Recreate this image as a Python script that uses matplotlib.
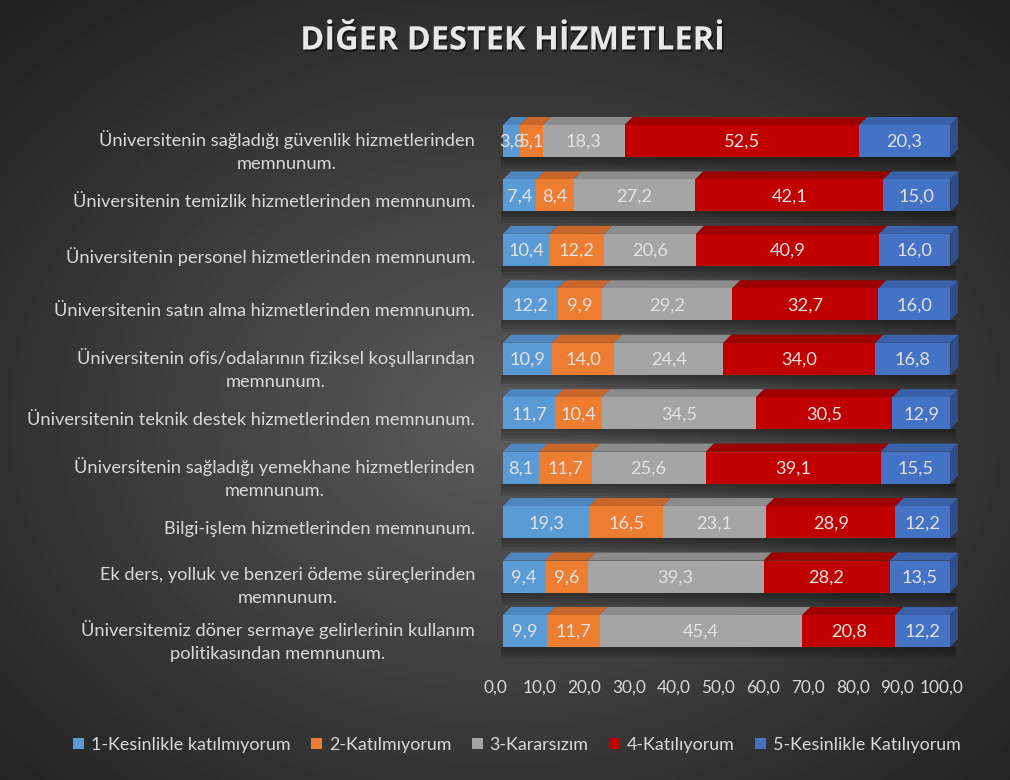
import numpy as np
import matplotlib
matplotlib.use("Agg")
import matplotlib.pyplot as plt
from matplotlib.patches import Polygon, Patch, Rectangle
from matplotlib.transforms import ScaledTranslation
import matplotlib.patheffects as pe

# ---------------- data ----------------
title = "DİĞER DESTEK HİZMETLERİ"
categories = [
    "Üniversitenin sağladığı güvenlik hizmetlerinden\nmemnunum.",
    "Üniversitenin temizlik hizmetlerinden memnunum.",
    "Üniversitenin personel hizmetlerinden memnunum.",
    "Üniversitenin satın alma hizmetlerinden memnunum.",
    "Üniversitenin ofis/odalarının fiziksel koşullarından\nmemnunum.",
    "Üniversitenin teknik destek hizmetlerinden memnunum.",
    "Üniversitenin sağladığı yemekhane hizmetlerinden\nmemnunum.",
    "Bilgi-işlem hizmetlerinden memnunum.",
    "Ek ders, yolluk ve benzeri ödeme süreçlerinden\nmemnunum.",
    "Üniversitemiz döner sermaye gelirlerinin kullanım\npolitikasından memnunum.",
]
series_names = ["1-Kesinlikle katılmıyorum", "2-Katılmıyorum", "3-Kararsızım",
                "4-Katılıyorum", "5-Kesinlikle Katılıyorum"]
s1 = [3.8, 7.4, 10.4, 12.2, 10.9, 11.7, 8.1, 19.3, 9.4, 9.9]
s2 = [5.1, 8.4, 12.2, 9.9, 14.0, 10.4, 11.7, 16.5, 9.6, 11.7]
s3 = [18.3, 27.2, 20.6, 29.2, 24.4, 34.5, 25.6, 23.1, 39.3, 45.4]
s4 = [52.5, 42.1, 40.9, 32.7, 34.0, 30.5, 39.1, 28.9, 28.2, 20.8]
s5 = [20.3, 15.0, 16.0, 16.0, 16.8, 12.9, 15.5, 12.2, 13.5, 12.2]
tick_values = [0, 10, 20, 30, 40, 50, 60, 70, 80, 90, 100]
tick_labels = ["0,0", "10,0", "20,0", "30,0", "40,0", "50,0", "60,0",
               "70,0", "80,0", "90,0", "100,0"]

series = [s1, s2, s3, s4, s5]
front_colors = ["#5B9BD5", "#ED7D31", "#A5A5A5", "#C00000", "#4472C4"]
top_colors = ["#4E87BF", "#C9672A", "#8C8C8C", "#9E0000", "#3A62AA"]
side_colors = ["#3F6E9C", "#A55423", "#727272", "#800000", "#2E4F8C"]
text_color = "#D9D9D9"
FONT = ["Lato", "DejaVu Sans"]

# ---------------- figure ----------------
W, H = 1010, 780
fig = plt.figure(figsize=(W / 100, H / 100), dpi=100)
renderer = fig.canvas.get_renderer()


def fit(text, target_px, family=FONT, weight="normal"):
    t = fig.text(0, 0, text, fontsize=20, family=family, weight=weight)
    w = t.get_window_extent(renderer).width
    t.remove()
    return 20 * target_px / w


# background radial gradient
bg = fig.add_axes([0, 0, 1, 1], zorder=-10)
yy, xx = np.mgrid[0:H, 0:W]
r = np.sqrt(((xx - 505) / (W / 2)) ** 2 + ((yy - 420) / (H / 2)) ** 2) / np.sqrt(2)
r = np.clip(r, 0, 1)
c_center, c_edge = 0x5C / 255, 0x22 / 255
v = c_edge + (c_center - c_edge) * (1 - r) ** 1.1
bg.imshow(v, cmap="gray", vmin=0, vmax=1, aspect="auto", interpolation="bilinear")
bg.axis("off")

# main axes (front face 0..100 -> px 503..950)
row0, step = 141.0, 54.44
ax_top, ax_bot = 100, 665
ax = fig.add_axes([503 / W, 1 - ax_bot / H, 447 / W, (ax_bot - ax_top) / H])
ax.set_xlim(0, 100)
ax.set_ylim((ax_bot - row0) / step, (ax_top - row0) / step)
ax.patch.set_alpha(0)
for sp in ax.spines.values():
    sp.set_visible(False)

n = len(categories)
y = np.arange(n)
h = 32 / step
dx = 8 / 4.47
dy = 8 / step

fs_data = fit("52,5", 36)

# soft shadow under each bar
for i in range(n):
    for k, ext in enumerate([3, 6, 9, 12]):
        ax.add_patch(Rectangle((-0.5, y[i] + h / 2), 100 + dx, ext / step,
                               facecolor="black", alpha=0.09, edgecolor="none",
                               zorder=1, clip_on=False))

left = np.zeros(n)
for k, vals in enumerate(series):
    vals = np.array(vals)
    ax.barh(y, vals, left=left, height=h, color=front_colors[k],
            edgecolor="none", zorder=3)
    for i in range(n):
        l, w_ = left[i], vals[i]
        yt = y[i] - h / 2
        ax.add_patch(Polygon([(l, yt), (l + w_, yt), (l + w_ + dx, yt - dy),
                              (l + dx, yt - dy)], closed=True,
                             facecolor=top_colors[k], edgecolor="none",
                             zorder=2, clip_on=False))
        if k == len(series) - 1:
            R = l + w_
            yb = y[i] + h / 2
            ax.add_patch(Polygon([(R, yb), (R, yt), (R + dx, yt - dy),
                                  (R + dx, yb - dy)], closed=True,
                                 facecolor=side_colors[k], edgecolor="none",
                                 zorder=2, clip_on=False))
        ax.text(l + w_ / 2, y[i] + 0.02, f"{w_:.1f}".replace(".", ","),
                ha="center", va="center", color="#E2E2E2", fontsize=fs_data,
                family=FONT, zorder=5)
    left = left + vals

# y labels
fs_cat = fit("Üniversitenin teknik destek hizmetlerinden memnunum.", 450)
ax.set_yticks(y, categories)
ax.tick_params(axis="y", length=0, pad=28 * 0.72, labelcolor=text_color,
               labelsize=fs_cat)
for lab in ax.get_yticklabels():
    lab.set_family(FONT)
    lab.set_multialignment("center")
    lab.set_linespacing(1.55)
    lab.set_transform(lab.get_transform() +
                      ScaledTranslation(0, -5 / 100, fig.dpi_scale_trans))

# x labels
fs_tick = fit("100,0", 44)
ax.set_xticks(tick_values, tick_labels)
ax.tick_params(axis="x", length=0, pad=15 * 0.72, labelcolor=text_color,
               labelsize=fs_tick)
for lab in ax.get_xticklabels():
    lab.set_family(FONT)
    lab.set_transform(lab.get_transform() +
                      ScaledTranslation(-8 / 100, 0, fig.dpi_scale_trans))

# title
TFONT = ["Open Sans", "DejaVu Sans"]
fs_title = fit(title, 425, family=TFONT, weight="bold")
fig.text(512 / W, 1 - 41 / H, title, ha="center", va="center",
         fontsize=fs_title, family=TFONT, weight="bold", color="#E8E8E8",
         path_effects=[pe.withSimplePatchShadow(offset=(1, -1.5),
                                                shadow_rgbFace="black",
                                                alpha=0.6)])

# legend
fs_leg = fit("1-Kesinlikle katılmıyorum", 199)
handles = [Patch(facecolor=c, edgecolor="none") for c in front_colors]
leg = fig.legend(handles, series_names, loc="center",
                 bbox_to_anchor=(517 / W, 1 - 745 / H), ncol=5, frameon=False,
                 handlelength=0.6, handleheight=0.6, handletextpad=0.4,
                 columnspacing=1.15, prop={"family": FONT, "size": fs_leg},
                 labelcolor=text_color)

fig.savefig("out.png", dpi=100)
